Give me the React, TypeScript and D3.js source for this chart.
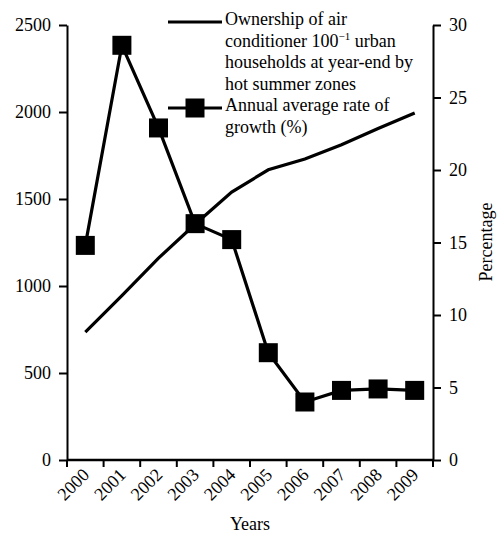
import { useEffect, useRef } from 'react';
import * as d3 from 'd3';

const years = ['2000', '2001', '2002', '2003', '2004', '2005', '2006', '2007', '2008', '2009'];
// ownership of air conditioners per 100 urban households (left axis)
const ownership = [735, 945, 1160, 1355, 1540, 1668, 1730, 1812, 1905, 1994];
// annual average rate of growth, % (right axis)
const growth = [14.8, 28.6, 22.9, 16.3, 15.2, 7.4, 4.0, 4.8, 4.9, 4.8];
const leftTicks = [0, 500, 1000, 1500, 2000, 2500];
const rightTicks = [0, 5, 10, 15, 20, 25, 30];

export default function App() {
  const ref = useRef<SVGSVGElement>(null);

  useEffect(() => {
    document.body.style.margin = '0';
    if (!ref.current) return;
    const svg = d3.select(ref.current);
    svg.selectAll('*').remove();

    const font = '"Liberation Serif", "Times New Roman", serif';
    const fs = 18;
    const left = 67;
    const right = 433;
    const top = 25;
    const bottom = 460;

    const x = d3.scaleBand<string>().domain(years).range([left, right]).paddingInner(0).paddingOuter(0);
    const yL = d3.scaleLinear().domain([0, 2500]).range([bottom, top]);
    const yR = d3.scaleLinear().domain([0, 30]).range([bottom, top]);
    const cx = (d: string) => (x(d) || 0) + x.bandwidth() / 2;

    svg.append('rect').attr('width', 498).attr('height', 535).attr('fill', '#fff');

    // left axis
    const gL = svg
      .append('g')
      .attr('transform', `translate(${left},0)`)
      .call(
        d3.axisLeft(yL).tickValues(leftTicks).tickFormat(d3.format('d')).tickSize(8).tickSizeOuter(0).tickPadding(8)
      );
    gL.selectAll('path,line').attr('stroke', '#000').attr('stroke-width', 2);
    gL.selectAll('text').style('font-family', font).style('font-size', `${fs}px`).attr('fill', '#000');

    // right axis
    const gR = svg
      .append('g')
      .attr('transform', `translate(${right},0)`)
      .call(
        d3.axisRight(yR).tickValues(rightTicks).tickFormat(d3.format('d')).tickSize(8).tickSizeOuter(0).tickPadding(8)
      );
    gR.selectAll('path,line').attr('stroke', '#000').attr('stroke-width', 2);
    gR.selectAll('text').style('font-family', font).style('font-size', `${fs}px`).attr('fill', '#000');

    // bottom axis: ticks at band boundaries
    const gX = svg.append('g');
    gX.append('line')
      .attr('x1', left)
      .attr('x2', right)
      .attr('y1', bottom)
      .attr('y2', bottom)
      .attr('stroke', '#000')
      .attr('stroke-width', 2.5);
    const bounds = years.map((d) => x(d) || 0).concat([right]);
    gX.selectAll('line.tick')
      .data(bounds)
      .enter()
      .append('line')
      .attr('class', 'tick')
      .attr('x1', (d) => d)
      .attr('x2', (d) => d)
      .attr('y1', bottom)
      .attr('y2', bottom + 7)
      .attr('stroke', '#000')
      .attr('stroke-width', 2);
    gX.selectAll('text')
      .data(years)
      .enter()
      .append('text')
      .attr('transform', (d) => `translate(${cx(d) + 5},${bottom + 16}) rotate(-45)`)
      .attr('text-anchor', 'end')
      .style('font-family', font)
      .style('font-size', `${fs}px`)
      .text((d) => d);

    svg.append('text')
      .attr('x', 250)
      .attr('y', 530)
      .attr('text-anchor', 'middle')
      .style('font-family', font)
      .style('font-size', `${fs}px`)
      .text('Years');

    svg.append('text')
      .attr('transform', 'translate(492,242) rotate(-90)')
      .attr('text-anchor', 'middle')
      .style('font-family', font)
      .style('font-size', `${fs}px`)
      .text('Percentage');

    // ownership line
    const line1 = d3
      .line<number>()
      .x((_, i) => cx(years[i]))
      .y((d) => yL(d));
    svg.append('path')
      .datum(ownership)
      .attr('d', line1)
      .attr('fill', 'none')
      .attr('stroke', '#000')
      .attr('stroke-width', 3.2);

    // growth line with squares
    const line2 = d3
      .line<number>()
      .x((_, i) => cx(years[i]))
      .y((d) => yR(d));
    svg.append('path')
      .datum(growth)
      .attr('d', line2)
      .attr('fill', 'none')
      .attr('stroke', '#000')
      .attr('stroke-width', 3.2);
    const sq = 19;
    svg.selectAll('rect.sq')
      .data(growth)
      .enter()
      .append('rect')
      .attr('class', 'sq')
      .attr('x', (_, i) => cx(years[i]) - sq / 2)
      .attr('y', (d) => yR(d) - sq / 2)
      .attr('width', sq)
      .attr('height', sq)
      .attr('fill', '#000');

    // legend
    const lg = svg.append('g');
    lg.append('line')
      .attr('x1', 168)
      .attr('x2', 222)
      .attr('y1', 22)
      .attr('y2', 22)
      .attr('stroke', '#000')
      .attr('stroke-width', 3.2);
    lg.append('line')
      .attr('x1', 168)
      .attr('x2', 222)
      .attr('y1', 108)
      .attr('y2', 108)
      .attr('stroke', '#000')
      .attr('stroke-width', 3.2);
    lg.append('rect')
      .attr('x', 195 - sq / 2)
      .attr('y', 108 - sq / 2)
      .attr('width', sq)
      .attr('height', sq)
      .attr('fill', '#000');

    const lines = [
      'Ownership of air',
      'conditioner 100',
      'households at year-end by',
      'hot summer zones',
      'Annual average rate of',
      'growth (%)',
    ];
    const lt = lg
      .append('text')
      .style('font-family', font)
      .style('font-size', `${fs}px`);
    lines.forEach((s, i) => {
      lt.append('tspan')
        .attr('x', 225)
        .attr('y', 25 + i * 21.6)
        .text(s);
      if (i === 1) {
        lt.append('tspan').attr('dy', -7).style('font-size', '11px').text('\u22121');
        lt.append('tspan').attr('dy', 7).text(' urban');
      }
    });

    return () => {
      svg.selectAll('*').remove();
    };
  }, []);

  return (
    <svg
      ref={ref}
      width={498}
      height={535}
      style={{ position: 'absolute', left: 0, top: 0, display: 'block' }}
    />
  );
}
